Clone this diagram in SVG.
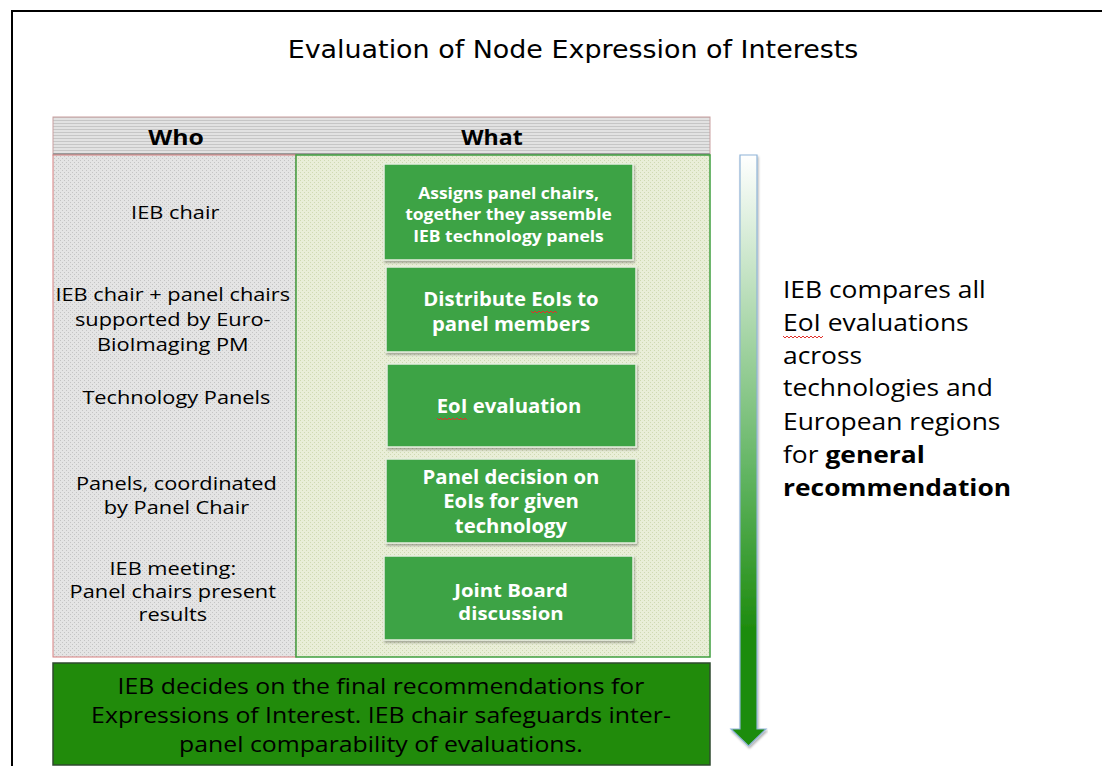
<svg xmlns="http://www.w3.org/2000/svg" width="1102" height="766" viewBox="0 0 1102 766">
<defs>
<pattern id="grayDots" width="4" height="4" patternUnits="userSpaceOnUse">
<rect width="4" height="4" fill="#e4e4e4"/>
<rect width="1" height="1" fill="#c4c4c4"/>
<rect x="2" y="2" width="1" height="1" fill="#c4c4c4"/>
</pattern>
<pattern id="greenDots" width="4" height="4" patternUnits="userSpaceOnUse">
<rect width="4" height="4" fill="#e9eed8"/>
<rect width="1" height="1" fill="#cfd9b2"/>
<rect x="2" y="2" width="1" height="1" fill="#cfd9b2"/>
</pattern>
<pattern id="stripes" width="4" height="3" patternUnits="userSpaceOnUse">
<rect width="4" height="3" fill="#e2e2e2"/>
<rect width="4" height="1" fill="#c6c6c6"/>
</pattern>
<linearGradient id="arrowGrad" x1="0" y1="0" x2="0" y2="1">
<stop offset="0" stop-color="#ffffff"/>
<stop offset="0.55" stop-color="#5fb35f"/>
<stop offset="0.8" stop-color="#1f8c10"/>
<stop offset="1" stop-color="#1f8c0a"/>
</linearGradient>
<filter id="shadow" x="-5%" y="-5%" width="110%" height="115%">
<feDropShadow dx="1" dy="2" stdDeviation="1.2" flood-color="#000" flood-opacity="0.3"/>
</filter>
</defs>
<style>
.who{font-family:"Open Sans",Lato,sans-serif;font-size:18px;fill:#000;text-anchor:middle}
.hdr{font-family:"Open Sans",Lato,sans-serif;font-size:21px;font-weight:bold;fill:#000;text-anchor:middle}
.box{fill:#3ca345;stroke:#e8eee0;stroke-width:1.5;filter:url(#shadow)}
.bt{font-family:"Open Sans",Lato,sans-serif;font-weight:bold;fill:#fff;text-anchor:middle}
.side{font-family:"Open Sans",Lato,sans-serif;font-size:24px;fill:#000}
.bottom{font-family:"Open Sans",Lato,sans-serif;font-size:22px;fill:#000;text-anchor:middle}
.squig{fill:none;stroke:#e0302a;stroke-width:1}
</style>
<rect width="1102" height="766" fill="#fff"/>
<path d="M12 766 V11 H1102" fill="none" stroke="#000" stroke-width="2"/>
<text x="573" y="58" font-family="'DejaVu Sans',Verdana,sans-serif" font-size="25" text-anchor="middle" fill="#000" transform="translate(573 0) scale(1.077 1) translate(-573 0)">Evaluation of Node Expression of Interests</text>

<g id="header">
<rect x="53" y="117" width="657" height="38" fill="url(#stripes)" stroke="#c9a0a0" stroke-width="1"/>
<rect x="53" y="153" width="657" height="2" fill="#9a9a9a"/>
<text class="hdr" x="176" y="145" transform="translate(176 0) scale(1.18 1) translate(-176 0)">Who</text>
<text class="hdr" x="492" y="145" transform="translate(492 0) scale(1.1 1) translate(-492 0)">What</text>
</g>

<g id="who-column">
<rect x="53" y="155" width="243" height="502" fill="url(#grayDots)" stroke="#d88080" stroke-width="1"/>
<g transform="translate(174 0) scale(1.21 1) translate(-174 0)">
<text class="who" x="175" y="219">IEB chair</text>
<text class="who" x="173" y="301">IEB chair + panel chairs</text>
<text class="who" x="173" y="326">supported by Euro-</text>
<text class="who" x="173" y="351">BioImaging PM</text>
<text class="who" x="176" y="404">Technology Panels</text>
<text class="who" x="176" y="490">Panels, coordinated</text>
<text class="who" x="176" y="514">by Panel Chair</text>
<text class="who" x="173" y="575">IEB meeting:</text>
<text class="who" x="173" y="598">Panel chairs present</text>
<text class="who" x="173" y="621">results</text>
</g>
</g>

<g id="what-column">
<rect x="296" y="155" width="414" height="502" fill="url(#greenDots)" stroke="#3f9f3f" stroke-width="1.5"/>
</g>

<g id="step1">
<rect class="box" x="384" y="164" width="249" height="96"/>
<g transform="translate(508.5 0) scale(1.06 1) translate(-508.5 0)">
<text class="bt" font-size="16.5" x="508.5" y="199">Assigns panel chairs,</text>
<text class="bt" font-size="16.5" x="508.5" y="220">together they assemble</text>
<text class="bt" font-size="16.5" x="508.5" y="242">IEB technology panels</text>
</g>
</g>
<g id="step2">
<rect class="box" x="386" y="267" width="250" height="85"/>
<g transform="translate(511 0) scale(1.07 1) translate(-511 0)">
<text class="bt" font-size="19" x="511" y="306">Distribute EoIs to</text>
<text class="bt" font-size="19" x="511" y="331">panel members</text>
</g>
<path class="squig" d="M531 311 l2 2 l2 -2 l2 2 l2 -2 l2 2 l2 -2 l2 2 l2 -2 l2 2 l2 -2 l2 2 l2 -2 l2 2"/>
</g>
<g id="step3">
<rect class="box" x="387" y="364" width="249" height="83"/>
<g transform="translate(509 0) scale(1.07 1) translate(-509 0)">
<text class="bt" font-size="19" x="509" y="413">EoI evaluation</text>
</g>
<path class="squig" d="M437 418 l2 2 l2 -2 l2 2 l2 -2 l2 2 l2 -2 l2 2 l2 -2 l2 2 l2 -2 l2 2 l2 -2 l2 2 l2 -2 l2 2"/>
</g>
<g id="step4">
<rect class="box" x="386" y="459" width="250" height="84"/>
<g transform="translate(511 0) scale(1.07 1) translate(-511 0)">
<text class="bt" font-size="19" x="511" y="484">Panel decision on</text>
<text class="bt" font-size="19" x="511" y="508">EoIs for given</text>
<text class="bt" font-size="19" x="511" y="533">technology</text>
</g>
</g>
<g id="step5">
<rect class="box" x="384" y="556" width="249" height="84"/>
<g transform="translate(511 0) scale(1.13 1) translate(-511 0)">
<text class="bt" font-size="18" x="511" y="597">Joint Board</text>
<text class="bt" font-size="18" x="511" y="620">discussion</text>
</g>
</g>

<g id="final">
<rect x="53" y="663" width="657" height="102" fill="#218b0b" stroke="#2f4a2f" stroke-width="1.5"/>
<g transform="translate(381 0) scale(1.128 1) translate(-381 0)">
<text class="bottom" x="381" y="694">IEB decides on the final recommendations for</text>
<text class="bottom" x="381" y="723">Expressions of Interest. IEB chair safeguards inter-</text>
<text class="bottom" x="381" y="752">panel comparability of evaluations.</text>
</g>
</g>

<g id="connectors">
<path d="M740 155 H757 V729 H766 L748.5 746 L731 729 H740 Z" fill="url(#arrowGrad)" stroke="#8fb4d8" stroke-width="1.2" filter="url(#shadow)"/>
</g>

<g id="side-note">
<g transform="translate(783 0) scale(1.1 1) translate(-783 0)">
<text class="side" x="783" y="298">IEB compares all</text>
<text class="side" x="783" y="331">EoI evaluations</text>
<text class="side" x="783" y="364">across</text>
<text class="side" x="783" y="396">technologies and</text>
<text class="side" x="783" y="430">European regions</text>
<text class="side" x="783" y="463">for <tspan font-weight="bold">general</tspan></text>
<text class="side" x="783" y="496" font-weight="bold">recommendation</text>
</g>
<path class="squig" d="M783 336 l2 2 l2 -2 l2 2 l2 -2 l2 2 l2 -2 l2 2 l2 -2 l2 2 l2 -2 l2 2 l2 -2 l2 2 l2 -2 l2 2 l2 -2 l2 2 l2 -2 l2 2 l2 -2"/>
</g>
</svg>
